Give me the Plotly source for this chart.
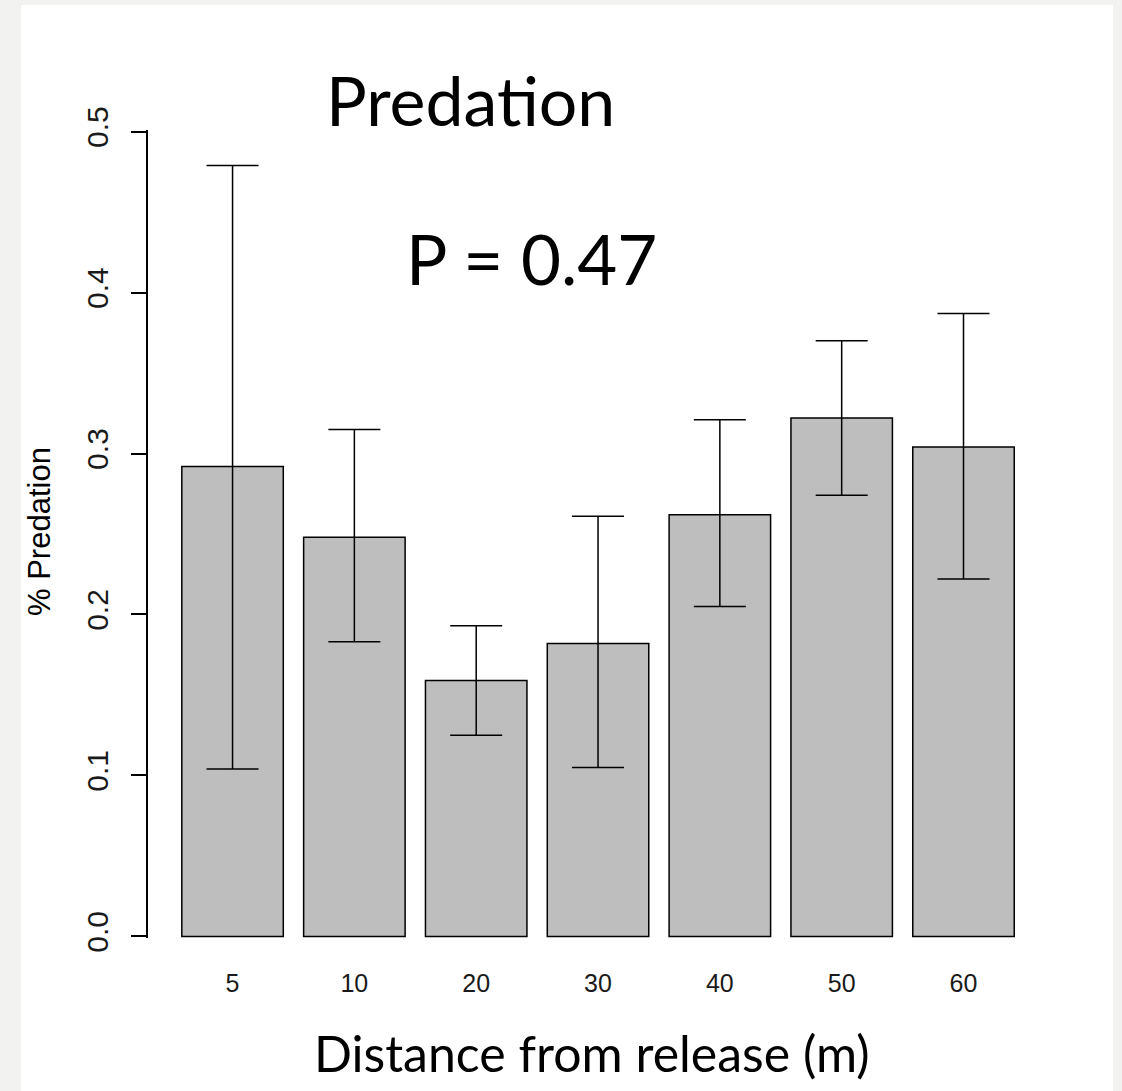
import plotly.graph_objects as go

# ---- data ----
distances = ["5", "10", "20", "30", "40", "50", "60"]
predation_mean = [0.292, 0.248, 0.159, 0.182, 0.262, 0.322, 0.304]
predation_upper = [0.479, 0.315, 0.193, 0.261, 0.321, 0.370, 0.387]
predation_lower = [0.104, 0.183, 0.125, 0.105, 0.205, 0.274, 0.222]
y_ticks = [0.0, 0.1, 0.2, 0.3, 0.4, 0.5]
y_tick_labels = ["0.0", "0.1", "0.2", "0.3", "0.4", "0.5"]

err_plus = [u - m for u, m in zip(predation_upper, predation_mean)]
err_minus = [m - l for m, l in zip(predation_mean, predation_lower)]

W, H = 1122, 1091
L, R, T, B = 148, 72, 130, 153
PW, PH = W - L - R, H - T - B


def px(x):
    return (x - L) / PW


def py(y):
    return (H - B - y) / PH


fig = go.Figure()
fig.add_trace(go.Bar(
    x=distances,
    y=predation_mean,
    width=0.833,
    marker=dict(color="#bebebe", line=dict(color="black", width=1.5)),
    error_y=dict(type="data", symmetric=False, array=err_plus, arrayminus=err_minus,
                 color="black", thickness=1.5, width=26),
    showlegend=False,
))

fig.update_layout(
    width=W, height=H,
    margin=dict(l=L, r=R, t=T, b=B, pad=0),
    paper_bgcolor="#f2f2f0",
    plot_bgcolor="white",
    font=dict(family="Liberation Sans, Arial, sans-serif", color="black"),
    xaxis=dict(
        type="category",
        range=[-0.694, 6.71],
        showline=False, showgrid=False, zeroline=False,
        ticks="", ticklabelstandoff=28,
        tickfont=dict(size=25, color="#1a1a1a"),
    ),
    yaxis=dict(
        range=[-0.001, 0.501],
        showline=True, linecolor="black", linewidth=1.5,
        showgrid=False, zeroline=False,
        ticks="outside", ticklen=15, tickwidth=1.5, tickcolor="black",
        tickvals=y_ticks, ticktext=y_tick_labels, tickangle=-90,
        tickfont=dict(size=30, color="#1a1a1a"),
        ticklabelstandoff=11,
    ),
    shapes=[dict(type="rect", xref="paper", yref="paper", layer="below",
                 x0=px(21), x1=px(1113), y0=py(1200), y1=py(5),
                 fillcolor="white", line=dict(width=0))],
    annotations=[
        dict(text="Predation", xref="paper", yref="paper", x=px(470), y=py(100),
             showarrow=False, xanchor="center", yanchor="middle",
             font=dict(family="Lato, sans-serif", size=68, color="black")),
        dict(text="P = 0.47", xref="paper", yref="paper", x=px(531), y=py(258),
             showarrow=False, xanchor="center", yanchor="middle",
             font=dict(family="Lato, sans-serif", size=69, color="black")),
        dict(text="Distance from release (m)", xref="paper", yref="paper", x=px(591), y=py(1053),
             showarrow=False, xanchor="center", yanchor="middle",
             font=dict(family="Lato, sans-serif", size=50, color="black")),
        dict(text="% Predation", xref="paper", yref="paper", x=px(39), y=py(532),
             showarrow=False, xanchor="center", yanchor="middle", textangle=-90,
             font=dict(family="Liberation Sans, Arial, sans-serif", size=31, color="black")),
    ],
)

fig.write_html("out.html")
